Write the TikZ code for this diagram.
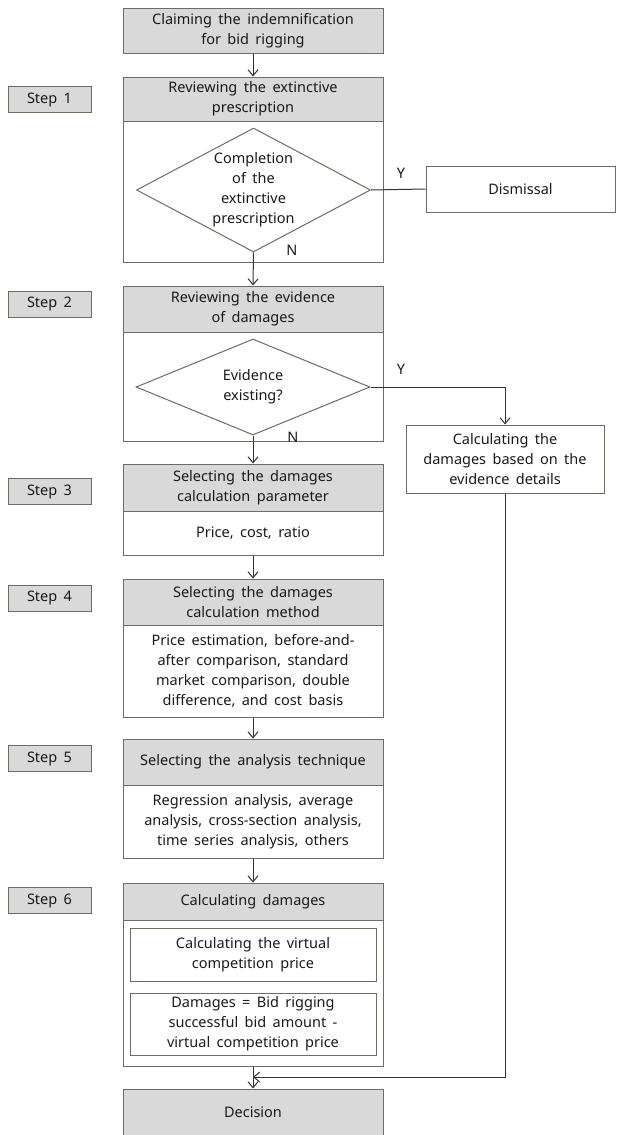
\documentclass[tikz,border=0pt]{standalone}
\usepackage{fontspec}
\setmainfont[WordSpace=1.7]{Noto Sans}
\usetikzlibrary{arrows.meta,shapes.geometric}
\definecolor{bcol}{RGB}{110,107,95}
\definecolor{hfill}{RGB}{217,217,217}
\definecolor{lcol}{RGB}{50,50,50}
\tikzset{
  every node/.style={font=\fontsize{14.5}{20}\selectfont, text=black!90, align=center},
  box/.style={draw=bcol, line width=1pt, inner sep=0pt, align=center, minimum width=260pt},
  hbox/.style={box, fill=hfill},
  stepbox/.style={draw=bcol, line width=1pt, fill=hfill, minimum width=83pt, minimum height=26pt, inner sep=0pt},
  dia/.style={draw=bcol, line width=1pt, diamond, inner sep=0pt, minimum width=234pt, minimum height=#1},
  arr/.style={draw=lcol, line width=1pt, -{Straight Barb[length=6pt,width=10pt]}},
  ln/.style={draw=lcol, line width=1pt},
  yn/.style={inner sep=0pt}
}
\begin{document}
\begin{tikzpicture}[x=1pt,y=-1pt]
\useasboundingbox (0,0) rectangle (621,1135);
% top
\node[hbox, minimum height=45pt] (claim) at (253,30.5) {Claiming the indemnification\\for bid rigging};
% step 1
\node[box, minimum height=185pt] (s1) at (253,169.5) {};
\node[hbox, minimum height=44pt] (s1h) at (253,99) {Reviewing the extinctive\\prescription};
\node[dia=124pt] (d1) at (253.5,190) {};
\node (d1t) at (253.5,190) {Completion\\of the\\extinctive\\prescription};
\node[stepbox] (st1) at (49.5,99.5) {Step 1};
\node[box, minimum width=189pt, minimum height=46pt] (dis) at (520.5,189) {Dismissal};
\node[yn] (y1) at (401,173) {Y};
\node[yn] (n1) at (292,250) {N};
% step 2
\node[box, minimum height=155pt] (s2) at (253,363.5) {};
\node[hbox, minimum height=46pt] (s2h) at (253,309) {Reviewing the evidence\\of damages};
\node[dia=96pt] (d2) at (253,387) {};
\node (d2t) at (253,387) {Evidence\\existing?};
\node[stepbox] (st2) at (49.5,304) {Step 2};
\node[box, minimum width=198pt, minimum height=68pt] (ev) at (505,459) {Calculating the\\damages based on the\\evidence details};
\node[yn] (y2) at (401,369) {Y};
\node[yn] (n2) at (293,437) {N};
% step 3
\node[box, minimum height=91pt] (s3) at (253,509.5) {};
\node[hbox, minimum height=47pt] (s3h) at (253,487.5) {Selecting the damages\\calculation parameter};
\node (s3b) at (253,533) {Price, cost, ratio};
\node[stepbox] (st3) at (49.5,491.5) {Step 3};
% step 4
\node[box, minimum height=138pt] (s4) at (253,648) {};
\node[hbox, minimum height=46pt] (s4h) at (253,602) {Selecting the damages\\calculation method};
\node (s4b) at (253,671) {Price estimation, before-and-\\after comparison, standard\\market comparison, double\\difference, and cost basis};
\node[stepbox] (st4) at (49.5,598) {Step 4};
% step 5
\node[box, minimum height=119pt] (s5) at (253,798.5) {};
\node[hbox, minimum height=46pt] (s5h) at (253,762) {Selecting the analysis technique};
\node (s5b) at (253,821.5) {Regression analysis, average\\analysis, cross-section analysis,\\time series analysis, others};
\node[stepbox] (st5) at (49.5,758.5) {Step 5};
% step 6
\node[box, minimum height=183pt] (s6) at (253,974.5) {};
\node[hbox, minimum height=37pt] (s6h) at (253,901.5) {Calculating damages};
\node[box, minimum width=246pt, minimum height=53pt] (i1) at (253,954.5) {Calculating the virtual\\competition price};
\node[box, minimum width=246pt, minimum height=62pt] (i2) at (253,1024) {Damages = Bid rigging\\successful bid amount -\\virtual competition price};
\node[stepbox] (st6) at (49.5,900.5) {Step 6};
% decision
\node[hbox, minimum height=47pt] (dec) at (253,1112.5) {Decision};
\coordinate (join) at (253,1077);
% connectors
\draw[arr] (claim.south) -- (s1.north);
\draw[arr] (d1.south) -- (s2.north);
\draw[ln] (d1.east) -- (dis.west);
\draw[arr] (d2.south) -- (s3.north);
\draw[arr] (d2.east) -| (ev.north);
\draw[arr] (s3.south) -- (s4.north);
\draw[arr] (s4.south) -- (s5.north);
\draw[arr] (s5.south) -- (s6.north);
\draw[arr] (s6.south) -- (dec.north);
\draw[arr] (ev.south) |- (join);
\end{tikzpicture}
\end{document}
